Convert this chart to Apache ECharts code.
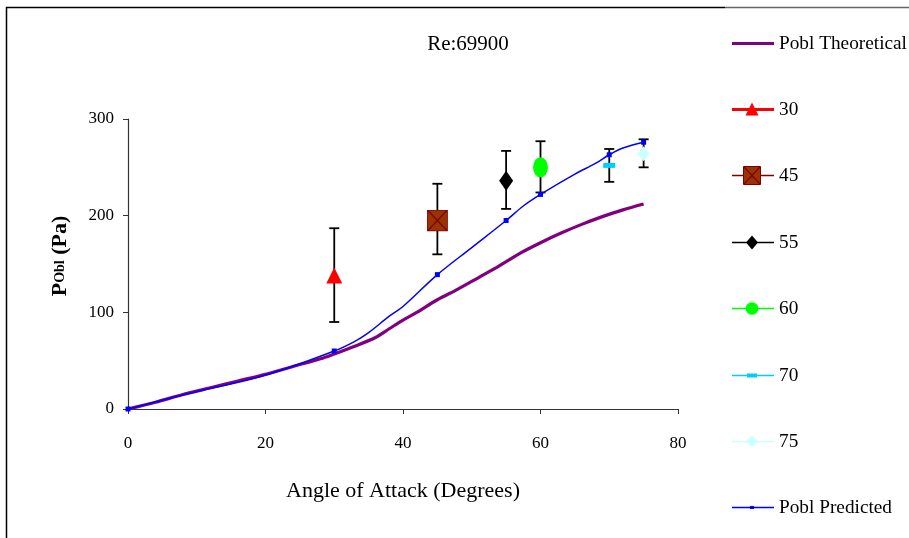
<!DOCTYPE html>
<html><head><meta charset="utf-8">
<script src="https://cdn.jsdelivr.net/npm/echarts@6/dist/echarts.min.js"></script>
<style>html,body{margin:0;padding:0;background:#fff}#c{width:909px;height:538px}</style>
</head><body><div id="c"></div>
<script>
// Theoretical curve
const theoX = [0, 4, 8, 12, 16, 20, 24, 28, 30, 33, 36, 38, 40, 42, 45, 48, 51, 54, 57, 60, 63, 66, 69, 72, 75];
const theoY = [0, 7, 15, 22, 29, 36, 44, 52, 57, 65, 74, 83, 92, 100, 113, 124, 136, 148, 161, 172, 182, 191, 199, 206, 212];
// Predicted curve (markers shown at listed marker angles)
const predX = [0, 10, 20, 30, 33, 35, 38, 40, 45, 50, 55, 57.5, 60, 65, 68, 70, 72, 75];
const predY = [0, 18, 35, 60, 70, 79, 96, 106, 139, 167, 195, 210, 222, 243, 254, 263, 270, 276];
const predMarkers = [0, 30, 45, 55, 60, 70, 75];
// Measured points
const measNames = ['30', '45', '55', '60', '70', '75'];
const measX = [30, 45, 55, 60, 70, 75];
const measY = [138, 195, 236, 250, 252, 264];
const errLow = [90, 160, 207, 224, 235, 250];
const errHigh = [187, 233, 267, 277, 269, 279];
// Legend entries
const legendNames = ['Pobl Theoretical', '30', '45', '55', '60', '70', '75', 'Pobl Predicted'];

const serif = '"Liberation Serif","Times New Roman",serif';
const sq45 = "image://data:image/svg+xml;utf8," + encodeURIComponent(
  "<svg xmlns='http://www.w3.org/2000/svg' width='22' height='22'><rect x='0.5' y='0.5' width='21' height='21' fill='#993300' stroke='#800000' stroke-width='1'/><path d='M1 1L21 21M21 1L1 21' stroke='#800000' stroke-width='1.3'/></svg>");

const measStyle = [
  {symbol: 'triangle', size: [16, 16], color: '#FF0000'},
  {symbol: sq45, size: [21, 22], color: '#993300'},
  {symbol: 'diamond', size: [14, 20], color: '#000000'},
  {symbol: 'circle', size: [15, 20], color: '#00FF00'},
  {symbol: 'rect', size: [12, 5], color: '#00CCFF'},
  {symbol: 'diamond', size: [12, 15], color: '#CCFFFF'}
];

const series = [];
series.push({
  name: 'Pobl Theoretical', type: 'line', smooth: 0.3, showSymbol: false, symbol: 'none',
  data: theoX.map((x, i) => [x, theoY[i]]),
  lineStyle: {color: '#800080', width: 3.2}, itemStyle: {color: '#800080'}, z: 2
});
// error bars
series.push({
  type: 'custom', name: 'err', silent: true, z: 3,
  data: measX.map((x, i) => [x, errLow[i], errHigh[i]]),
  renderItem: function (params, api) {
    const x = api.value(0);
    const lo = api.coord([x, api.value(1)]);
    const hi = api.coord([x, api.value(2)]);
    const w = 5;
    const st = {stroke: '#000', lineWidth: 1.8};
    return {type: 'group', children: [
      {type: 'line', shape: {x1: lo[0], y1: lo[1], x2: hi[0], y2: hi[1]}, style: st},
      {type: 'line', shape: {x1: lo[0] - w, y1: lo[1], x2: lo[0] + w, y2: lo[1]}, style: st},
      {type: 'line', shape: {x1: hi[0] - w, y1: hi[1], x2: hi[0] + w, y2: hi[1]}, style: st}
    ]};
  }
});
measNames.forEach((n, i) => {
  const s = measStyle[i];
  series.push({
    name: n, type: 'scatter', symbol: s.symbol, symbolSize: s.size,
    data: [[measX[i], measY[i]]],
    itemStyle: {color: s.color, opacity: 1}, z: 5
  });
});
series.push({
  name: 'Pobl Predicted', type: 'line', smooth: 0.35, symbol: 'rect', symbolSize: 5,
  data: predX.map((x, i) => ({value: [x, predY[i]], symbol: predMarkers.includes(x) ? 'rect' : 'none'})),
  lineStyle: {color: '#0000FF', width: 1.5}, itemStyle: {color: '#0000FF'}, z: 4
});

// Legend drawn as graphic elements
const lgX1 = 732, lgX2 = 774, lgCx = 752, lgTx = 779, lgY0 = 42.5, lgStep = 66.4;
const lgLine = [
  {c: '#800080', w: 3}, {c: '#FF0000', w: 3}, {c: '#800000', w: 1.3}, {c: '#000000', w: 1.3},
  {c: '#00FF00', w: 1.5}, {c: '#00CCFF', w: 1.5}, {c: '#CCFFFF', w: 1.5}, {c: '#0000FF', w: 1.5}
];
function lgSymbol(i, y) {
  const cx = lgCx;
  switch (i) {
    case 1: return [{type: 'polygon', shape: {points: [[cx, y - 7], [cx + 6.5, y + 6], [cx - 6.5, y + 6]]}, style: {fill: '#FF0000'}}];
    case 2: return [
      {type: 'rect', shape: {x: cx - 8.5, y: y - 9, width: 17, height: 18}, style: {fill: '#993300', stroke: '#800000', lineWidth: 1}},
      {type: 'line', shape: {x1: cx - 8, y1: y - 8.5, x2: cx + 8, y2: y + 8.5}, style: {stroke: '#800000', lineWidth: 1.2}},
      {type: 'line', shape: {x1: cx + 8, y1: y - 8.5, x2: cx - 8, y2: y + 8.5}, style: {stroke: '#800000', lineWidth: 1.2}}
    ];
    case 3: return [{type: 'polygon', shape: {points: [[cx, y - 7], [cx + 6, y], [cx, y + 7], [cx - 6, y]]}, style: {fill: '#000000'}}];
    case 4: return [{type: 'circle', shape: {cx: cx, cy: y, r: 6.3}, style: {fill: '#00FF00'}}];
    case 5: return [{type: 'rect', shape: {x: cx - 5, y: y - 2, width: 10, height: 4}, style: {fill: '#00CCFF'}}];
    case 6: return [{type: 'polygon', shape: {points: [[cx, y - 6], [cx + 6, y], [cx, y + 6], [cx - 6, y]]}, style: {fill: '#CCFFFF'}}];
    case 7: return [{type: 'rect', shape: {x: cx - 2, y: y - 1.5, width: 4, height: 3}, style: {fill: '#0000FF'}}];
    default: return [];
  }
}
const legendGraphics = [];
legendNames.forEach((n, i) => {
  const y = Math.round(lgY0 + i * lgStep) + 0.5;
  legendGraphics.push({type: 'line', shape: {x1: lgX1, y1: y, x2: lgX2, y2: y}, style: {stroke: lgLine[i].c, lineWidth: lgLine[i].w}});
  lgSymbol(i, y).forEach(g => legendGraphics.push(g));
  legendGraphics.push({type: 'text', x: lgTx, y: y, style: {text: n, font: '19.3px ' + serif, fill: '#000', verticalAlign: 'middle', align: 'left'}});
});

const chart = echarts.init(document.getElementById('c'), null, {renderer: 'canvas'});
chart.setOption({
  animation: false,
  backgroundColor: '#fff',
  title: {text: 'Re:69900', left: 463, top: 29, textAlign: 'center',
    textStyle: {fontFamily: serif, fontSize: 21, fontWeight: 'normal', color: '#000'}},
  grid: {left: 128, right: 231, top: 119, bottom: 129},
  xAxis: {
    type: 'value', min: 0, max: 80, interval: 20,
    name: 'Angle of Attack (Degrees)', nameLocation: 'middle', nameGap: 71,
    nameTextStyle: {fontFamily: serif, fontSize: 22, color: '#000'},
    axisLine: {show: true, lineStyle: {color: '#333', width: 1.2}},
    axisTick: {show: true, inside: false, length: 5, lineStyle: {color: '#333'}},
    axisLabel: {fontFamily: serif, fontSize: 17, color: '#000', margin: 26},
    splitLine: {show: false}
  },
  yAxis: {
    type: 'value', min: 0, max: 300, interval: 100,
    axisLine: {show: true, lineStyle: {color: '#333', width: 1.2}},
    axisTick: {show: true, inside: false, length: 5, lineStyle: {color: '#333'}},
    axisLabel: {fontFamily: serif, fontSize: 17, color: '#000', margin: 14},
    splitLine: {show: false}
  },
  graphic: [
    {type: 'line', shape: {x1: 6, y1: 7.5, x2: 725, y2: 7.5}, style: {stroke: '#000', lineWidth: 1.5}},
    {type: 'line', shape: {x1: 725, y1: 7.5, x2: 909, y2: 7.5}, style: {stroke: '#666', lineWidth: 1.5}},
    {type: 'line', shape: {x1: 6.5, y1: 7, x2: 6.5, y2: 538}, style: {stroke: '#000', lineWidth: 1.5}},
    {type: 'text', x: 60, y: 256, rotation: Math.PI / 2,
      style: {text: '{p|P}{s|Obl}{p| (Pa)}', align: 'center', verticalAlign: 'middle',
        rich: {p: {fontFamily: serif, fontSize: 22, fontWeight: 'bold', fill: '#000', color: '#000'},
               s: {fontFamily: serif, fontSize: 14, fontWeight: 'bold', fill: '#000', color: '#000'}}}}
  ].concat(legendGraphics),
  series: series
});
</script></body></html>
